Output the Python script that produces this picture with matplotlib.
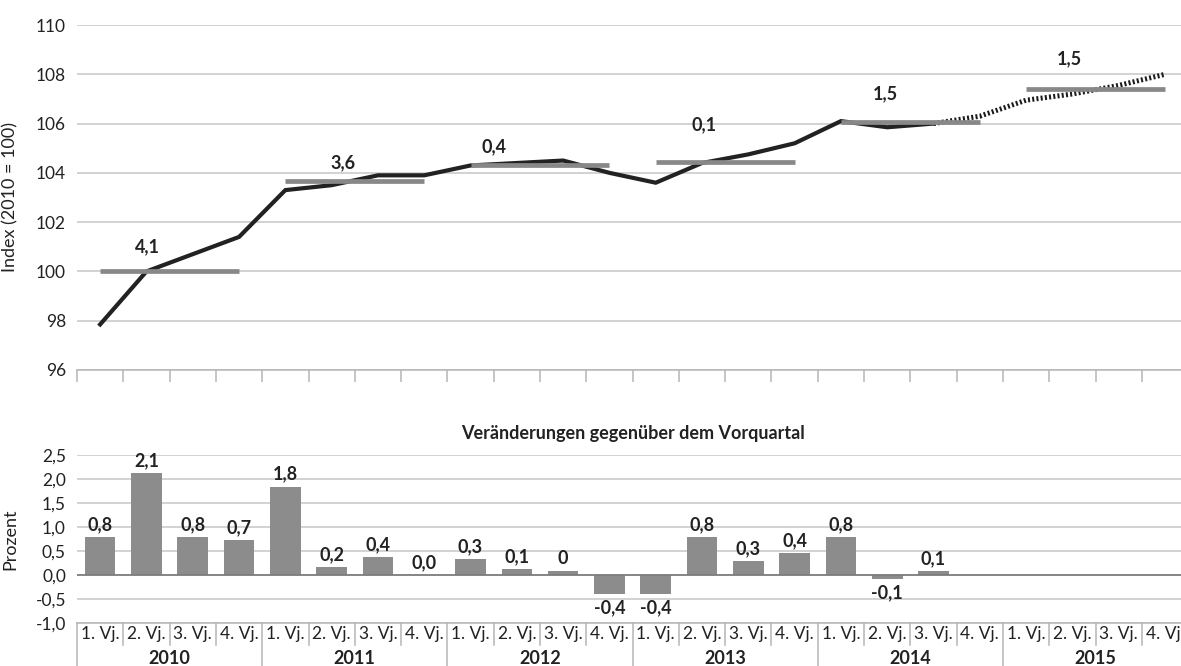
import numpy as np
import matplotlib
matplotlib.use("Agg")
import matplotlib.pyplot as plt
import matplotlib.transforms as mtransforms

plt.rcParams['font.family'] = ['Lato', 'DejaVu Sans']

years = ['2010', '2011', '2012', '2013', '2014', '2015']
quarters = ['1. Vj.', '2. Vj.', '3. Vj.', '4. Vj.']

# index 2010 = 100, quarterly
index_values = [97.85, 100.0, 100.7, 101.4,
                103.3, 103.5, 103.9, 103.9,
                104.3, 104.4, 104.5, 104.0,
                103.6, 104.4, 104.75, 105.2,
                106.1, 105.85, 106.0, 106.3,
                106.95, 107.2, 107.55, 108.0]
n_actual = 19  # solid line up to 3. Vj. 2014, dotted afterwards

annual_mean = [100.0, 103.65, 104.3, 104.45, 106.08, 107.4]
annual_change = ['4,1', '3,6', '0,4', '0,1', '1,5', '1,5']
change_label_x = [1.02, 5.25, 8.51, 13.04, 16.96, 20.94]
change_label_y = [101.0, 104.43, 105.06, 105.94, 107.19, 108.62]

# change to previous quarter in percent
qoq_values = [0.78, 2.12, 0.78, 0.73, 1.84, 0.16, 0.37, 0.0, 0.32, 0.12,
              0.08, -0.40, -0.40, 0.78, 0.28, 0.45, 0.78, -0.09, 0.08]
qoq_labels = ['0,8', '2,1', '0,8', '0,7', '1,8', '0,2', '0,4', '0,0', '0,3', '0,1',
              '0', '-0,4', '-0,4', '0,8', '0,3', '0,4', '0,8', '-0,1', '0,1']

W, H = 1181, 666
fig = plt.figure(figsize=(W / 100, H / 100), dpi=100)

grid_c = '#c6c6c6'
text_c = '#222222'
ncat = len(years) * len(quarters)
cat_w = 46.3
left = 77
fs_tick = 12.5
fs_bold = 13

def comma(v, nd=1):
    return f'{v:.{nd}f}'.replace('.', ',')

# ---- top chart
ax1 = fig.add_axes([left / W, 1 - 370 / H, ncat * cat_w / W, 345 / H])
ax1.set_xlim(-0.5, ncat - 0.5)
ax1.set_ylim(96, 110)
yt = np.arange(96, 111, 2)
ax1.set_yticks(yt)
ax1.set_yticklabels([str(v) for v in yt])
ax1.grid(axis='y', color=grid_c, lw=1.1)
ax1.set_axisbelow(True)
for s in ['top', 'right', 'left']:
    ax1.spines[s].set_visible(False)
ax1.spines['bottom'].set_color('#b5b5b5')
ax1.spines['bottom'].set_linewidth(1.1)
ax1.set_xticks(np.arange(-0.5, ncat, 1))
ax1.set_xticklabels([])
ax1.tick_params(axis='x', direction='out', length=8.5, color='#b5b5b5', width=1.1)
ax1.tick_params(axis='y', length=0, pad=8, labelsize=fs_tick, labelcolor=text_c)

x = np.arange(ncat)
ax1.plot(x[:n_actual], index_values[:n_actual], color='#222222', lw=3,
         solid_joinstyle='miter', zorder=3)
ax1.plot(x[n_actual - 1:], index_values[n_actual - 1:], color='#1a1a1a', lw=3.6,
         linestyle=(0, (0.4, 0.45)), dash_capstyle='butt', zorder=3)

for k, m in enumerate(annual_mean):
    ax1.plot([4 * k, 4 * k + 3], [m, m], color='#888888', lw=3.4,
             solid_capstyle='butt', zorder=4)
    ax1.text(change_label_x[k], change_label_y[k], annual_change[k],
             ha='center', va='center', fontsize=fs_bold, fontweight='bold', color=text_c)

ax1.set_ylabel('Index (2010 = 100)', fontsize=13, color=text_c)
ax1.yaxis.set_label_coords((18 - left) / (ncat * cat_w), 0.5)

# ---- bottom chart
ax2 = fig.add_axes([left / W, 1 - 622.7 / H, ncat * cat_w / W, 167.7 / H])
ax2.set_xlim(-0.5, ncat - 0.5)
ax2.set_ylim(-1.0, 2.5)
yt2 = np.arange(-1.0, 2.51, 0.5)
ax2.set_yticks(yt2)
ax2.set_yticklabels([comma(v) for v in yt2])
ax2.grid(axis='y', color=grid_c, lw=1.1)
ax2.set_axisbelow(True)
for s in ['top', 'right', 'left']:
    ax2.spines[s].set_visible(False)
ax2.spines['bottom'].set_color('#b5b5b5')
ax2.spines['bottom'].set_linewidth(1.1)
ax2.set_xticks([])
ax2.tick_params(axis='y', length=0, pad=8, labelsize=fs_tick, labelcolor=text_c)

ax2.bar(np.arange(len(qoq_values)), qoq_values, width=0.66, color='#8c8c8c', zorder=2)
ax2.axhline(0, color='#7a7a7a', lw=1.2, zorder=3)

for i, (v, lab) in enumerate(zip(qoq_values, qoq_labels)):
    off = 9 if v >= 0 else -9.6
    ax2.annotate(lab, (i, v), xytext=(0, off), textcoords='offset points',
                 ha='center', va='center', fontsize=fs_bold, fontweight='bold', color=text_c)

ax2.text(0.5, 1 + (455 - 433) / 167.7, 'Veränderungen gegenüber dem Vorquartal',
         transform=ax2.transAxes, ha='center', va='center', fontsize=13,
         fontweight='bold', color=text_c)

ax2.set_ylabel('Prozent', fontsize=13, color=text_c)
ax2.yaxis.set_label_coords((18 - left) / (ncat * cat_w), 0.5)

# multi-level category axis
trans = mtransforms.blended_transform_factory(ax2.transData, ax2.transAxes)
row1 = (634 - 622.7) / 167.7
row2 = (658 - 622.7) / 167.7
sep_q = (645 - 622.7) / 167.7
sep_y = (670 - 622.7) / 167.7
for i in range(ncat):
    ax2.text(i, -row1, quarters[i % 4], transform=trans, ha='center', va='center',
             fontsize=fs_tick, color=text_c, clip_on=False)
for k, yr in enumerate(years):
    ax2.text(4 * k + 1.5, -row2, yr, transform=trans, ha='center', va='center',
             fontsize=fs_bold, fontweight='bold', color=text_c, clip_on=False)
for b in np.arange(-0.5, ncat, 1):
    depth = sep_y if (b + 0.5) % 4 == 0 else sep_q
    ax2.plot([b, b], [0, -depth], transform=trans, color='#b5b5b5', lw=1.1,
             clip_on=False)

fig.savefig('out.png', dpi=100)
